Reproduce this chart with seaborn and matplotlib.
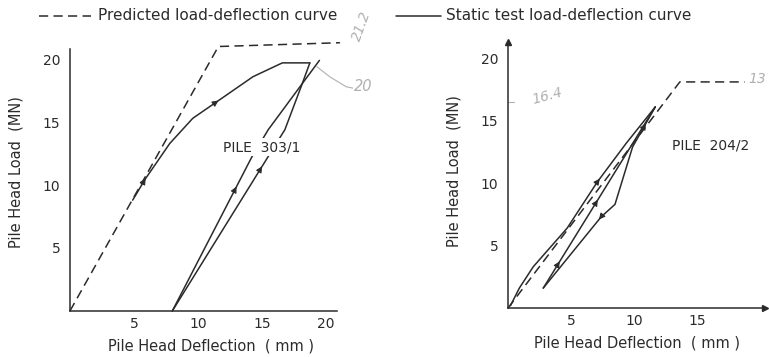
import numpy as np
import pandas as pd
import seaborn as sns
import matplotlib.pyplot as plt
from matplotlib.lines import Line2D

# Pile 303/1 (left panel)
pred_303_x = [0, 11.6, 21.1]
pred_303_y = [0, 21.0, 21.3]
load_303_x = [4.9, 5.9, 7.8, 9.6, 11.6, 14.3, 16.6, 18.75]
load_303_y = [8.8, 10.5, 13.3, 15.3, 16.7, 18.6, 19.7, 19.7]
unload_303_x = [18.75, 18.1, 16.8, 8.0]
unload_303_y = [19.7, 17.9, 14.4, 0.0]
reload_303_x = [8.0, 14.2, 15.5, 19.5]
reload_303_y = [0.0, 12.2, 14.4, 19.9]

# Pile 204/2 (right panel)
pred_204_x = [0, 13.65, 18.8]
pred_204_y = [0, 18.1, 18.1]
load_204_x = [0.2, 0.9, 2.0, 4.7, 7.1, 9.4, 11.7]
load_204_y = [0.2, 1.6, 3.3, 6.4, 10.1, 13.2, 16.1]
unload_204_x = [11.7, 2.8]
unload_204_y = [16.1, 1.6]
reload_204_x = [2.8, 7.4, 8.5, 9.9, 11.7]
reload_204_y = [1.6, 7.3, 8.3, 12.9, 16.1]

yticks = [5, 10, 15, 20]
xticks_303 = [5, 10, 15, 20]
xticks_204 = [5, 10, 15]

legend_labels = ['Predicted load-deflection curve',
                 'Static test load-deflection curve']

sns.set_theme(style="white")
plt.rcParams['font.family'] = ['DejaVu Sans']

INK = '#2b2b2b'
PENCIL = '#b0b0b0'
DASH = (0, (6, 3.5))


def curve(ax, xs, ys, dashed=False):
    df = pd.DataFrame({'x': xs, 'y': ys})
    sns.lineplot(data=df, x='x', y='y', ax=ax, sort=False, estimator=None,
                 color=INK, lw=1.1, linestyle=DASH if dashed else '-',
                 clip_on=False)


def arrow(ax, xs, ys, seg, frac, up=True):
    p0 = np.array([xs[seg], ys[seg]])
    p1 = np.array([xs[seg + 1], ys[seg + 1]])
    d = p1 - p0
    if (d[1] < 0) == up:
        d = -d
    d = d / np.hypot(*d)
    p = p0 + frac * (p1 - p0)
    ax.annotate('', xy=p + d * 0.35, xytext=p - d * 0.35,
                arrowprops=dict(arrowstyle='-|>', color=INK, lw=0.8,
                                mutation_scale=9))


def style_axes(ax, xmax, ytop, xticks, arrows=False):
    sns.despine(ax=ax)
    ax.spines['left'].set_bounds(0, ytop)
    ax.spines['bottom'].set_bounds(0, xmax)
    for s in ('left', 'bottom'):
        ax.spines[s].set_color(INK)
        ax.spines[s].set_linewidth(1.1)
    ax.set_yticks(yticks)
    ax.set_xticks(xticks)
    ax.tick_params(axis='y', direction='out', length=5, width=0.9,
                   color=INK, labelsize=10, pad=2, labelcolor=INK)
    ax.tick_params(axis='x', direction='in', length=3, width=0.9,
                   color=INK, labelsize=10, pad=4, labelcolor=INK)
    ax.set_xlabel('Pile Head Deflection  ( mm )', fontsize=10.5, color=INK,
                  labelpad=6)
    ax.set_ylabel('Pile Head Load  (MN)', fontsize=10.5, color=INK,
                  labelpad=14)
    if arrows:
        ax.plot([xmax], [0], marker='>', color=INK, ms=5, clip_on=False)
        ax.plot([0], [ytop], marker='^', color=INK, ms=5, clip_on=False)


fig = plt.figure(figsize=(7.69, 3.57), dpi=100)

# left panel
ax1 = fig.add_axes([0.091, 0.129, 0.366, 0.776])
ax1.set_xlim(0, 22)
ax1.set_ylim(0, 22)
curve(ax1, pred_303_x, pred_303_y, dashed=True)
curve(ax1, load_303_x, load_303_y)
curve(ax1, unload_303_x, unload_303_y)
curve(ax1, reload_303_x, reload_303_y)
arrow(ax1, load_303_x, load_303_y, 0, 0.95)
arrow(ax1, load_303_x, load_303_y, 3, 0.95)
arrow(ax1, reload_303_x, reload_303_y, 0, 0.80)
arrow(ax1, unload_303_x, unload_303_y, 2, 0.21)
ax1.text(15.0, 13.0, 'PILE  303/1', ha='center', va='center', fontsize=10,
         color=INK, bbox=dict(fc='white', ec='none', pad=1.5))
style_axes(ax1, 20.9, 20.8, xticks_303)
# pencil notes
ax1.plot([19.3, 20.3, 21.6, 22.1], [19.4, 18.6, 17.8, 17.7], color=PENCIL,
         lw=0.8, clip_on=False)
ax1.text(22.9, 17.8, '20', fontsize=10.5, color=PENCIL, clip_on=False,
         ha='center', va='center', style='italic')
ax1.text(22.8, 22.6, '21.2', fontsize=10, color=PENCIL, clip_on=False,
         ha='center', va='center', rotation=70, style='italic')

# right panel
ax2 = fig.add_axes([0.6606, 0.137, 0.3355, 0.770])
ax2.set_xlim(0, 20.5)
ax2.set_ylim(0, 22)
curve(ax2, pred_204_x, pred_204_y, dashed=True)
curve(ax2, load_204_x, load_204_y)
curve(ax2, unload_204_x, unload_204_y)
curve(ax2, reload_204_x, reload_204_y)
arrow(ax2, load_204_x, load_204_y, 4, 0.05)
arrow(ax2, unload_204_x, unload_204_y, 0, 0.52)
arrow(ax2, unload_204_x, unload_204_y, 0, 0.86)
arrow(ax2, reload_204_x, reload_204_y, 0, 0.98, up=False)
arrow(ax2, reload_204_x, reload_204_y, 3, 0.55)
ax2.text(16.1, 13.0, 'PILE  204/2', ha='center', va='center', fontsize=10,
         color=INK)
style_axes(ax2, 20.4, 21.3, xticks_204, arrows=True)
ax2.plot([0, 0.5], [16.5, 16.5], color=PENCIL, lw=0.8)
ax2.text(3.1, 17.0, '16.4', fontsize=10, color=PENCIL, ha='center',
         va='center', rotation=15, style='italic')
ax2.text(19.8, 18.3, '13', fontsize=10, color=PENCIL, ha='center',
         va='center', clip_on=False, style='italic')

# legend strip across the top
W, H = 769, 357
ly = 1 - 16 / H
fig.add_artist(Line2D([39 / W, 91 / W], [ly, ly], color=INK, lw=1.1,
                      linestyle=DASH, transform=fig.transFigure))
fig.text(98 / W, ly, legend_labels[0], fontsize=11, color=INK, va='center')
fig.add_artist(Line2D([396 / W, 441 / W], [ly, ly], color=INK, lw=1.1,
                      transform=fig.transFigure))
fig.text(446 / W, ly, legend_labels[1], fontsize=11, color=INK, va='center')

fig.savefig('out.png', dpi=100, facecolor='white')
